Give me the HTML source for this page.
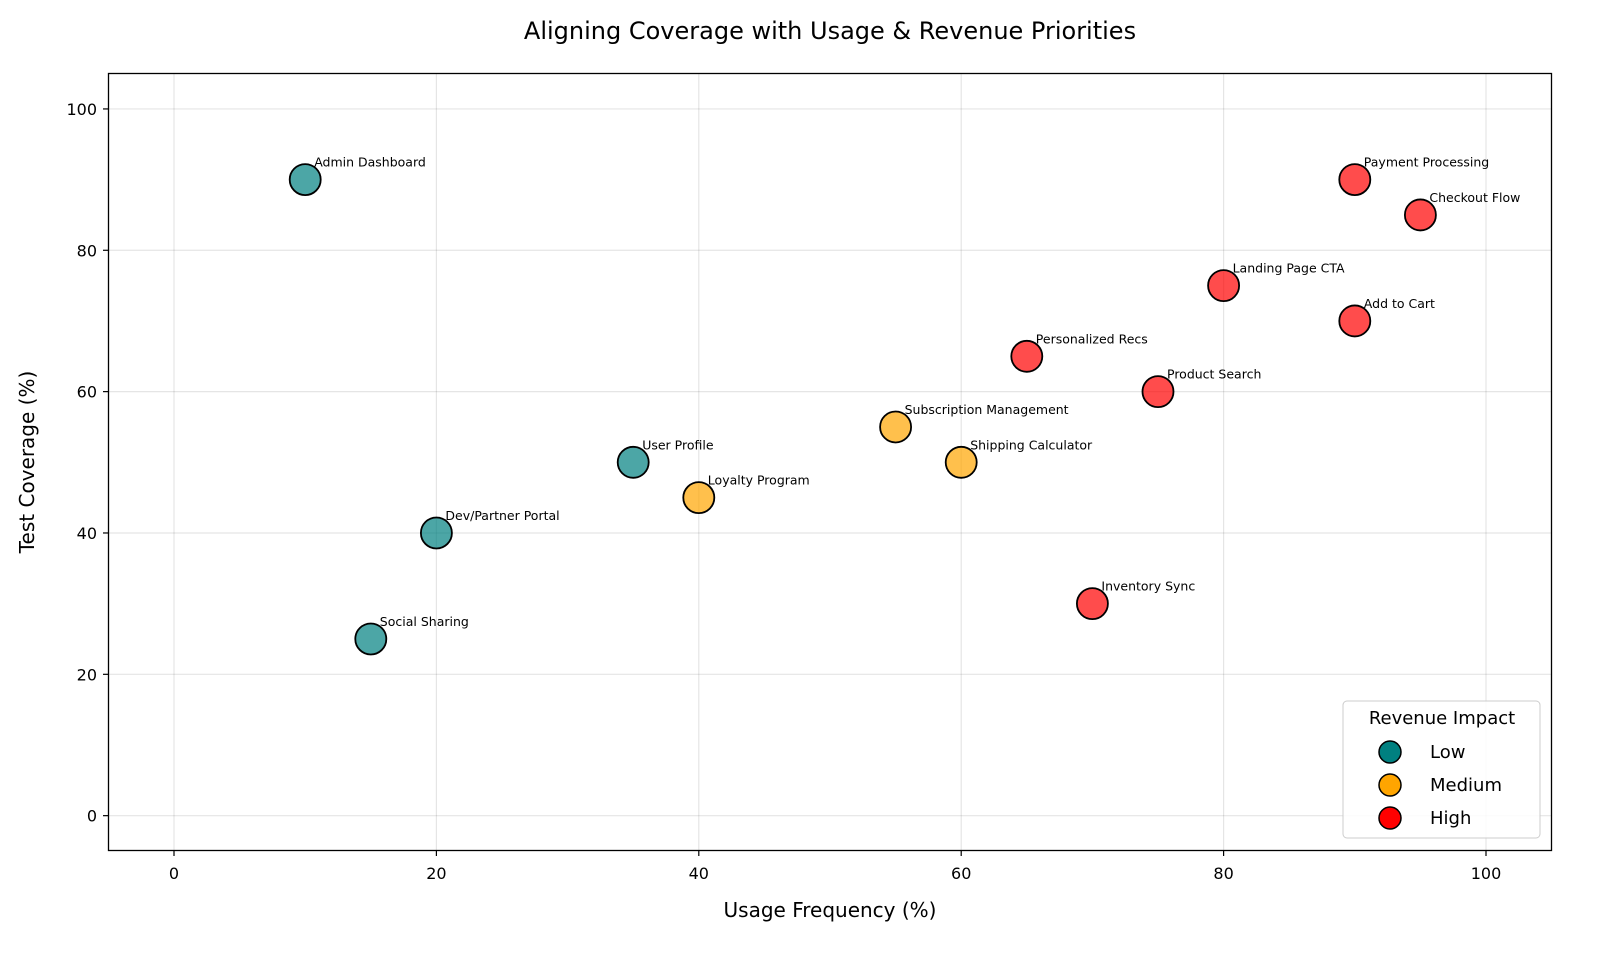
<!DOCTYPE html>
<html><head><meta charset="utf-8"><style>
body{margin:0;background:#fff}
svg text{font-family:"DejaVu Sans","Liberation Sans",sans-serif;fill:#000}
</style></head><body>
<svg id="chart" width="1600" height="958" viewBox="0 0 1600 958" xmlns="http://www.w3.org/2000/svg">
<rect width="1600" height="958" fill="#fff"/>
<text x="830" y="39" font-size="24" text-anchor="middle">Aligning Coverage with Usage &amp; Revenue Priorities</text>
<g id="grid"></g>
<g id="axes"></g>
<g id="points"></g>
<rect x="108.5" y="73.5" width="1443" height="777" fill="none" stroke="#000" stroke-width="1.3"/>
<text x="830" y="917" font-size="20" text-anchor="middle">Usage Frequency (%)</text>
<text transform="translate(34,462) rotate(-90)" font-size="20" text-anchor="middle">Test Coverage (%)</text>
<g>
<rect x="1343" y="701" width="197" height="137" rx="4" fill="#fff" fill-opacity="0.85" stroke="#ccc"/>
<text x="1442" y="724" font-size="18" text-anchor="middle">Revenue Impact</text>
<g><circle cx="1390" cy="752" r="11" fill="#008080" stroke="#000" stroke-width="1.5"/><text x="1430" y="758" font-size="18">Low</text></g>
<g><circle cx="1390" cy="785" r="11" fill="#ffa500" stroke="#000" stroke-width="1.5"/><text x="1430" y="791" font-size="18">Medium</text></g>
<g><circle cx="1390" cy="818" r="11" fill="#ff0000" stroke="#000" stroke-width="1.5"/><text x="1430" y="824" font-size="18">High</text></g>
</g>
</svg>
<script>
const names=["Admin Dashboard","Social Sharing","Dev/Partner Portal","User Profile","Loyalty Program","Subscription Management","Shipping Calculator","Personalized Recs","Inventory Sync","Product Search","Landing Page CTA","Add to Cart","Payment Processing","Checkout Flow"];
const usage=[10,15,20,35,40,55,60,65,70,75,80,90,90,95];
const coverage=[90,25,40,50,45,55,50,65,30,60,75,70,90,85];
const impact=["Low","Low","Low","Low","Medium","Medium","Medium","High","High","High","High","High","High","High"];
const xTicks=[0,20,40,60,80,100];
const yTicks=[0,20,40,60,80,100];
const colors={Low:"#008080",Medium:"#ffa500",High:"#ff0000"};
const NS="http://www.w3.org/2000/svg";
function sx(v){return 108.4+(v+5)*(1443.2/110);}
function sy(v){return 851-(v+5)*(777.4/110);}
function mk(tag,attrs,parent){const e=document.createElementNS(NS,tag);for(const k in attrs)e.setAttribute(k,attrs[k]);parent.appendChild(e);return e;}
const grid=document.getElementById('grid'),axes=document.getElementById('axes'),pts=document.getElementById('points');
xTicks.forEach(t=>{const x=sx(t);
 const g=mk('line',{x1:x,x2:x,y1:73.5,y2:850.5,stroke:'#000','stroke-opacity':0.1,'stroke-width':1.2},grid);
 
 
 mk('line',{x1:x,x2:x,y1:850.5,y2:856,stroke:'#000','stroke-width':1.2},axes);
 const tx=mk('text',{x:x,y:879,'font-size':16,'text-anchor':'middle'},axes);tx.textContent=t;
 
 
});
yTicks.forEach(t=>{const y=sy(t);
 const g=mk('line',{x1:108.5,x2:1551.5,y1:y,y2:y,stroke:'#000','stroke-opacity':0.1,'stroke-width':1.2},grid);
 
 
 mk('line',{x1:103,x2:108.5,y1:y,y2:y,stroke:'#000','stroke-width':1.2},axes);
 const tx=mk('text',{x:97,y:y+6,'font-size':16,'text-anchor':'end'},axes);tx.textContent=t;
 
 
});
names.forEach((n,i)=>{const x=sx(usage[i]),y=sy(coverage[i]);
 const c=mk('circle',{cx:x,cy:y,r:15.5,fill:colors[impact[i]],'fill-opacity':0.7,stroke:'#000','stroke-width':1.8},pts);
 
 
 const t=mk('text',{x:x+9,y:y-13,'font-size':12.5},pts);t.textContent=n;
 
 
});
</script>
</body></html>
